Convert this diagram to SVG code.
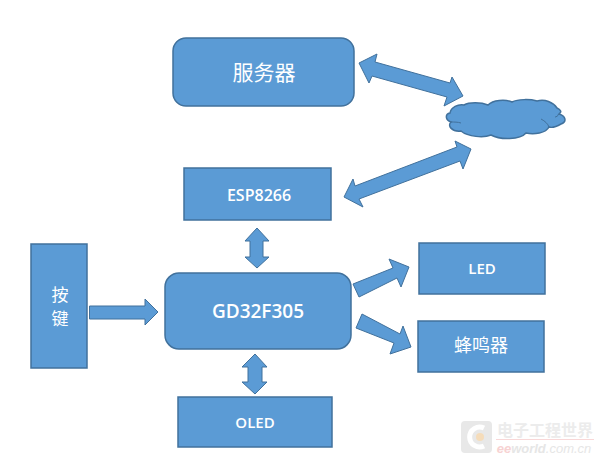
<svg xmlns="http://www.w3.org/2000/svg" width="600" height="460" viewBox="0 0 600 460">
<style>
.b{fill:#5b9bd5;stroke:#41719c;stroke-width:1.5}
.a{fill:#5b9bd5;stroke:#41719c;stroke-width:1;stroke-linejoin:miter}
text{fill:#fff;text-anchor:middle}
.l{font-family:"Open Sans","Noto Sans",sans-serif;font-weight:600}
.c{font-family:"Noto Sans CJK SC",sans-serif}
.w1{fill:#ececec;font-family:"Noto Sans CJK SC",sans-serif;font-weight:700}
.w2{fill:#e6e6e6;font-family:"Liberation Sans",sans-serif;font-style:italic}
</style>
<rect width="600" height="460" fill="#fff"/>
<g id="connectors">
<polygon class="a" points="359,63 377,54 375,62 450,83 452,77 463,96 444,106 447,97 372,76 369,83"/>
<polygon class="a" points="471,149 455,141 457,147 355,186 353,179 344,197 363,207 359,199 460,161 463,169"/>
<polygon class="a" points="257,228 269,241 263,241 263,257 269,257 257,268 245,257 250,257 250,241 245,241"/>
<polygon class="a" points="255,354 267,367 262,367 262,382 267,382 255,394 242,382 248,382 248,367 242,367"/>
<polygon class="a" points="89.500,306 145,306 145,299 158,312 145,325 145,319 89.500,319"/>
<polygon class="a" points="353,284 393,268 389,259 409,267 401,287 397,278 359,297"/>
<polygon class="a" points="362,314 400,334 403,326 411,347 390,354 394,343 356,328"/>
</g>
<g id="server"><rect class="b" x="173" y="38" width="181" height="68" rx="13"/><text class="c" x="264" y="80" font-size="21">服务器</text></g>
<g id="cloud"><path class="b" d="M450,113C451,107 458,104 464,105C469,102 481,102 488,105C493,100 505,99 512,102C518,99 530,99 537,101C545,99 553,102 557,108C561,110 562,112 559,114C566,116 567,122 561,124C556,127 552,128 549,127C546,133 534,135 526,133C520,140 500,140 491,135C484,138 468,137 461,131C452,132 447,126 451,122C445,120 445,114 450,113Z"/><path d="M451,122C454,122 458,122 461,123M541,119C545,121 548,124 549,127M559,114C558,116 556,117 555,117" fill="none" stroke="#41719c"/></g>
<g id="esp8266"><rect class="b" x="184" y="168" width="147" height="52"/><text class="l" x="259" y="201" font-size="16">ESP8266</text></g>
<g id="buttons"><rect class="b" x="31" y="244" width="56" height="124"/><text class="c" x="60" y="301" font-size="17">按</text><text class="c" x="60" y="325" font-size="17">键</text></g>
<g id="gd32"><rect class="b" x="165" y="273" width="186" height="76" rx="14"/><text class="l" x="258" y="318" font-size="19">GD32F305</text></g>
<g id="oled"><rect class="b" x="178" y="397" width="154" height="50"/><text class="l" x="255" y="428" font-size="15">OLED</text></g>
<g id="led"><rect class="b" x="419" y="243" width="126" height="51"/><text class="l" x="482" y="274" font-size="15">LED</text></g>
<g id="buzzer"><rect class="b" x="418" y="321" width="126" height="51"/><text class="c" x="481" y="352" font-size="18">蜂鸣器</text></g>
<g id="watermark">
<rect x="461" y="421" width="31" height="32" rx="4" fill="#e8e8e8"/>
<path d="M484,428A10,10 0 1 0 484,446" fill="none" stroke="#fff" stroke-width="5"/>
<circle cx="480" cy="437" r="4" fill="#f5dcba"/>
<text class="w1" x="545" y="436" font-size="16">电子工程世界</text>
<rect x="496" y="439" width="98" height="1" fill="#f8d8d8"/>
<text class="w2" x="544" y="453" font-size="13"><tspan style="fill:#f7d2d2;font-weight:700">ee</tspan><tspan style="font-weight:700">world</tspan>.com.cn</text>
</g>
</svg>
